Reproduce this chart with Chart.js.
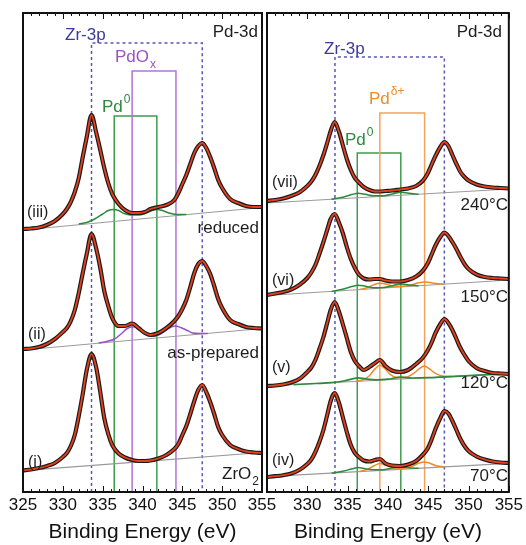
<!DOCTYPE html>
<html>
<head>
<meta charset="utf-8">
<script src="https://cdn.jsdelivr.net/npm/chart.js@4.4.1/dist/chart.umd.min.js"></script>
<style>
  body { margin: 0; background: #fff; }
  #wrap { position: relative; width: 526px; height: 545px; }
  canvas { position: absolute; top: 0; }
  #left { left: 0; }
  #right { left: 245px; }
</style>
</head>
<body>
<div id="wrap">
  <canvas id="left" width="285" height="545"></canvas>
  <canvas id="right" width="281" height="545"></canvas>
</div>
<script>
// ===== DATA =====
// binding energy grids (eV)
const energyL = [325, 326, 327, 328, 329, 330, 330.5, 331, 331.5, 332, 332.5, 333, 333.6, 334.2, 334.7, 335.2, 335.7, 336.2, 337, 337.8,
  338.7, 339.5, 340.3, 341, 342, 343, 344, 344.5, 345, 345.5, 346, 346.5, 347, 347.5, 348, 348.5, 349, 349.5, 350, 351,
  352, 353, 354, 355];
const energyR = [325, 326, 327, 328, 329, 330, 330.5, 331, 331.5, 332, 332.5, 332.9, 333.4, 333.9, 334.4, 334.9, 335.4, 335.9, 336.4, 337,
  337.7, 338.4, 339, 339.7, 340.5, 341.5, 342.5, 343.5, 344.3, 344.9, 345.4, 345.9, 346.5, 347, 347.5, 348, 348.5, 349, 349.5, 350,
  351, 352, 353, 354, 355];

// stacked intensities (arb. units), left panel
const specIII = [263, 263.5, 264.5, 267, 271, 278, 283, 290, 300, 314, 335, 355, 377, 359, 342, 324, 309, 298, 288, 282,
  279, 279, 280, 283, 285, 287, 292, 299, 308, 317, 328, 339, 346, 349, 344, 335, 324, 312, 304, 293, 289, 286, 285, 285];
const specII = [143, 143.5, 145, 148, 153, 160, 164, 171, 182, 199, 219, 238, 258, 243, 224, 201, 186, 174, 166, 166,
  168.5, 164, 159, 157, 159, 164, 171, 176, 183, 192, 205, 219, 228, 231, 226, 218, 206, 193, 184, 172, 168, 165, 164, 163.5];
const specI = [21.5, 22.5, 24, 26, 29, 35, 39, 46, 57, 76, 98, 122, 138, 124, 100, 74, 58, 47, 38.5, 34.5,
  32, 31, 31, 31.5, 33.5, 37, 43, 48, 57, 66, 78, 91, 102, 107, 100, 90, 78, 65, 57, 47, 43, 40.5, 39.5, 39];

// right panel
const specVII = [291, 292, 293.5, 296, 299.5, 306, 310.5, 317, 326, 337, 350, 361, 370, 361, 347, 333, 322, 314, 309.5, 305,
  302, 300.5, 300.5, 301, 301.5, 302.5, 303.5, 306, 311, 318, 327, 336, 345, 350, 346, 337, 328, 320, 315, 311.5,
  307.5, 305.5, 304.5, 304, 303.5];
const specVI = [197, 198.5, 200, 202.5, 207, 214, 219.5, 227, 238, 250, 263, 273, 278, 270, 259, 245, 233, 224, 217.5, 213.5,
  212.5, 213, 213, 211.5, 210.5, 210.5, 212, 215.5, 221, 228, 237, 246.5, 255, 259.5, 256, 250, 243, 235, 228, 223,
  217.5, 215, 214, 213.5, 213];
const specV = [106, 106.5, 107.5, 109.5, 113, 120, 124.5, 132, 143, 155, 170, 182, 190, 181, 168, 154, 140, 131, 126, 122,
  125, 129, 132, 126, 121.5, 120, 122, 128, 134, 141, 149, 159, 168, 173, 169, 162, 153, 144, 137, 131,
  124, 121, 119, 118.5, 118];
const specIV = [15, 15.8, 16.8, 18.5, 22, 28, 32.5, 40, 50, 62, 78, 91, 99, 90, 75, 60, 47, 39, 35, 31.5,
  30.5, 32, 33, 28.5, 26.5, 26, 27.5, 31, 37, 43, 52, 63, 74, 81, 78.5, 71, 62, 53, 46, 41,
  35.5, 32.5, 30.5, 29.5, 29];

// linear backgrounds: value at 325 eV and 355 eV
const baseIII = [262, 284.5];
const baseII = [142, 163.5];
const baseI = [21.3, 39.5];
const baseVII = [289, 303];
const baseVI = [196.5, 212];
const baseV = [106, 118.5];
const baseIV = [15.3, 28.7];

// fitted components [eV, value]
const pd0III = [[332, 268], [333, 269.5], [334, 273], [335, 278], [335.7, 281.5], [336.3, 282.5], [337, 281.5], [337.7, 278.5],
  [338.5, 277], [339.5, 276.9], [340.5, 279.1], [341.2, 281.5], [341.8, 282.5], [342.5, 281.5], [343.3, 279], [344.3, 277.5], [345.5, 277.4]];
const pdoxII = [[334.5, 149], [335.5, 150.5], [336.5, 153], [337.3, 158], [338, 163], [338.7, 165.3], [339.4, 164], [340.2, 160],
  [341, 156], [342, 157], [343, 162], [343.6, 165], [344.1, 166], [344.8, 164.5], [345.5, 162], [346.3, 159], [347.2, 158.5], [348.2, 158.6]];
const pd0VII = [[333, 292.7], [334.5, 295], [335.5, 297.4], [336.3, 298.8], [337.2, 297.7], [338.2, 296.2], [339.5, 296.3],
  [340.7, 298.3], [341.6, 299.8], [342.6, 298.7], [343.8, 297.8]];
const pd0VI = [[333, 200.6], [334.5, 202.9], [335.5, 205.4], [336.3, 206.8], [337.2, 205.8], [338.2, 204.3], [339.5, 204.5],
  [340.7, 206.6], [341.6, 208.1], [342.6, 207.1], [343.8, 206.2]];
const pdDeltaVI = [[336.5, 202.4], [337.5, 204.5], [338.3, 207.4], [339, 208.7], [339.7, 208.1], [340.6, 206.1], [341.8, 205.7],
  [343, 207.3], [343.8, 209.2], [344.5, 210.1], [345.2, 209.4], [346, 208.4], [347, 207.9]];
const pd0V = [[328.3, 107.4], [331, 108.5], [333, 109.3], [334.5, 111], [335.5, 112.9], [336.3, 114.2], [337.2, 113.1],
  [338.5, 112.1], [340, 112.8], [341.6, 114.9], [343, 114], [345, 114.3], [350, 116.4], [355, 118.5]];
const pdDeltaV = [[336, 110.6], [337, 112.5], [337.7, 116.3], [338.4, 123.1], [339, 126.8], [339.6, 123.6], [340.3, 117.4],
  [341.2, 114.3], [342.2, 114.7], [343.2, 118.6], [343.9, 123.4], [344.5, 126.1], [345.1, 123.4], [345.9, 118.7], [346.8, 116.1], [348, 115.6]];
const pd0IV = [[333, 18.9], [334.5, 21], [335.5, 23], [336.3, 24.4], [337.2, 23.3], [338.2, 22.2], [339.5, 22.3],
  [340.7, 24.3], [341.6, 25.2], [342.6, 24.2], [343.8, 23.7]];
const pdDeltaIV = [[336.5, 20.4], [337.5, 22.9], [338.3, 26.2], [339, 28.6], [339.7, 26.9], [340.6, 24.3], [341.8, 23.8],
  [343, 25.8], [343.8, 28.7], [344.5, 30], [345.2, 28.8], [346, 26.2], [347, 25.1]];

// reference peak positions (eV) and marker heights
const zrL = [333.6, 347.5], pdoxL = [338.7, 344.2], pd0L = [336.45, 341.8];
const zrR = [333.43, 347.0], pdDeltaR = [339.0, 344.55], pd0R = [336.2, 341.6];
const ticksX = [325, 330, 335, 340, 345, 350, 355];

// ===== STYLE =====
const FONT = '"Liberation Sans", Arial, sans-serif';
const C = {
  data: '#1a1a1a', fit: '#e5401d', base: '#9a9a9a',
  zr: '#5a56b8', zrText: '#3b3a9c',
  green: '#3e9c4e', greenText: '#2c8a3b',
  purple: '#b274d8', purpleText: '#9b51c9',
  orange: '#f5a25a', orangeText: '#f08a2a'
};

const pts = (xs, ys) => xs.map((x, i) => ({ x, y: ys[i] }));
const pairs = arr => arr.map(([x, y]) => ({ x, y }));

function curve(data, color, width, order) {
  return { data, borderColor: color, borderWidth: width, pointRadius: 0, fill: false,
    cubicInterpolationMode: 'monotone', order };
}

function spectrum(energy, vals) {
  const d = pts(energy, vals);
  return [curve(d, C.data, 4.2, 4), curve(d, C.fit, 1.8, 2)];
}

function baseline(b, color) {
  return curve([{ x: 325, y: b[0] }, { x: 355, y: b[1] }], color || C.base, 1.2, 6);
}

function marker(e, top, color, dash) {
  return { data: [{ x: e[0], y: 0 }, { x: e[0], y: top }, { x: e[1], y: top }, { x: e[1], y: 0 }],
    borderColor: color, borderWidth: 1.5, borderDash: dash ? [3, 3] : [], pointRadius: 0,
    tension: 0, fill: false, order: 10 };
}

// inward ticks, frame and annotations
const frame = {
  id: 'frame',
  afterDatasetsDraw(chart, args, opts) {
    const { ctx, chartArea: a, scales: { x } } = chart;
    ctx.save();
    ctx.strokeStyle = '#111';
    ctx.lineWidth = 1;
    for (let e = 325; e <= 355; e++) {
      const px = Math.round(x.getPixelForValue(e)) + 0.5;
      const len = e % 5 === 0 ? 6 : 3;
      ctx.beginPath();
      ctx.moveTo(px, a.bottom); ctx.lineTo(px, a.bottom - len);
      ctx.moveTo(px, a.top); ctx.lineTo(px, a.top + len);
      ctx.stroke();
    }
    ctx.lineWidth = 2;
    ctx.strokeRect(a.left, a.top, a.right - a.left, a.bottom - a.top);

    opts.labels.forEach(l => {
      ctx.font = `${l.size || 17}px ${FONT}`;
      ctx.fillStyle = l.color || '#1e1e1e';
      ctx.textBaseline = 'middle';
      ctx.textAlign = l.align || 'left';
      const tx = a.left + l.dx, ty = a.top + l.dy;
      ctx.fillText(l.text, tx, ty);
      if (l.sub || l.sup) {
        const w = ctx.measureText(l.text).width;
        ctx.font = `12px ${FONT}`;
        ctx.textAlign = 'left';
        ctx.fillText(l.sub || l.sup, tx + w + 1, ty + (l.sub ? 8 : -7));
      }
    });
    ctx.restore();
  }
};

function options(pad, labels, hideFirst) {
  return {
    responsive: false, animation: false, devicePixelRatio: 1, events: [],
    layout: { padding: pad },
    plugins: { legend: { display: false }, tooltip: { enabled: false }, frame: { labels } },
    scales: {
      x: {
        type: 'linear', min: 325, max: 355,
        afterFit: s => { s.height = 53; },
        afterBuildTicks: s => { s.ticks = ticksX.map(v => ({ value: v })); },
        grid: { display: false, drawTicks: false },
        border: { display: false },
        ticks: {
          autoSkip: false, maxRotation: 0, padding: 3, color: '#111',
          font: { size: 17, family: FONT },
          callback: v => (hideFirst && v === 325 ? '' : v)
        },
        title: { display: true, text: 'Binding Energy (eV)', color: '#111', padding: 0,
          font: { size: 21, family: FONT } }
      },
      y: { display: false, min: 0, max: 479 }
    }
  };
}

const labelsL = [
  { text: 'Zr-3p', dx: 42, dy: 22, color: C.zrText },
  { text: 'Pd-3d', dx: 235, dy: 19, align: 'right' },
  { text: 'PdO', dx: 92, dy: 44, color: C.purpleText, sub: 'x' },
  { text: 'Pd', dx: 79, dy: 94, color: C.greenText, sup: '0' },
  { text: '(iii)', dx: 4, dy: 200, size: 16 },
  { text: 'reduced', dx: 236, dy: 215, align: 'right' },
  { text: '(ii)', dx: 5, dy: 322, size: 16 },
  { text: 'as-prepared', dx: 236, dy: 340, align: 'right' },
  { text: '(i)', dx: 5, dy: 450, size: 16 },
  { text: 'ZrO', dx: 199, dy: 461, sub: '2' }
];

const labelsR = [
  { text: 'Zr-3p', dx: 57, dy: 36, color: C.zrText },
  { text: 'Pd-3d', dx: 235, dy: 19, align: 'right' },
  { text: 'Pd', dx: 102, dy: 86, color: C.orangeText, sup: 'δ+' },
  { text: 'Pd', dx: 78, dy: 127, color: C.greenText, sup: '0' },
  { text: '(vii)', dx: 5, dy: 170, size: 16 },
  { text: '240°C', dx: 241, dy: 192, align: 'right' },
  { text: '(vi)', dx: 5, dy: 268, size: 16 },
  { text: '150°C', dx: 241, dy: 284, align: 'right' },
  { text: '(v)', dx: 5, dy: 355, size: 16 },
  { text: '120°C', dx: 241, dy: 370, align: 'right' },
  { text: '(iv)', dx: 5, dy: 448, size: 16 },
  { text: '70°C', dx: 241, dy: 463, align: 'right' }
];

new Chart(document.getElementById('left'), {
  type: 'line',
  data: {
    datasets: [
      marker(zrL, 449, C.zr, true),
      marker(pdoxL, 421, C.purple),
      marker(pd0L, 376, C.green),
      baseline(baseIII), baseline(baseII), baseline(baseI),
      curve(pairs(pd0III), C.greenText, 1.5, 5),
      curve(pairs(pdoxII), C.purpleText, 1.5, 5),
      ...spectrum(energyL, specIII),
      ...spectrum(energyL, specII),
      ...spectrum(energyL, specI)
    ]
  },
  options: options({ top: 13, left: 23, right: 23, bottom: 0 }, labelsL, false),
  plugins: [frame]
});

new Chart(document.getElementById('right'), {
  type: 'line',
  data: {
    datasets: [
      marker(zrR, 435, C.zr, true),
      marker(pdDeltaR, 379, C.orange),
      marker(pd0R, 339, C.green),
      baseline(baseVII), baseline(baseVI), baseline(baseV), baseline(baseIV),
      curve(pairs(pd0VII), C.greenText, 1.5, 5),
      curve(pairs(pd0VI), C.greenText, 1.5, 5),
      curve(pairs(pdDeltaVI), C.orangeText, 1.5, 5),
      curve(pairs(pd0V), C.greenText, 1.7, 5),
      curve(pairs(pdDeltaV), C.orangeText, 1.5, 5),
      curve(pairs(pd0IV), C.greenText, 1.5, 5),
      curve(pairs(pdDeltaIV), C.orangeText, 1.5, 5),
      ...spectrum(energyR, specVII),
      ...spectrum(energyR, specVI),
      ...spectrum(energyR, specV),
      ...spectrum(energyR, specIV)
    ]
  },
  options: options({ top: 13, left: 22, right: 16, bottom: 0 }, labelsR, true),
  plugins: [frame]
});
</script>
</body>
</html>
